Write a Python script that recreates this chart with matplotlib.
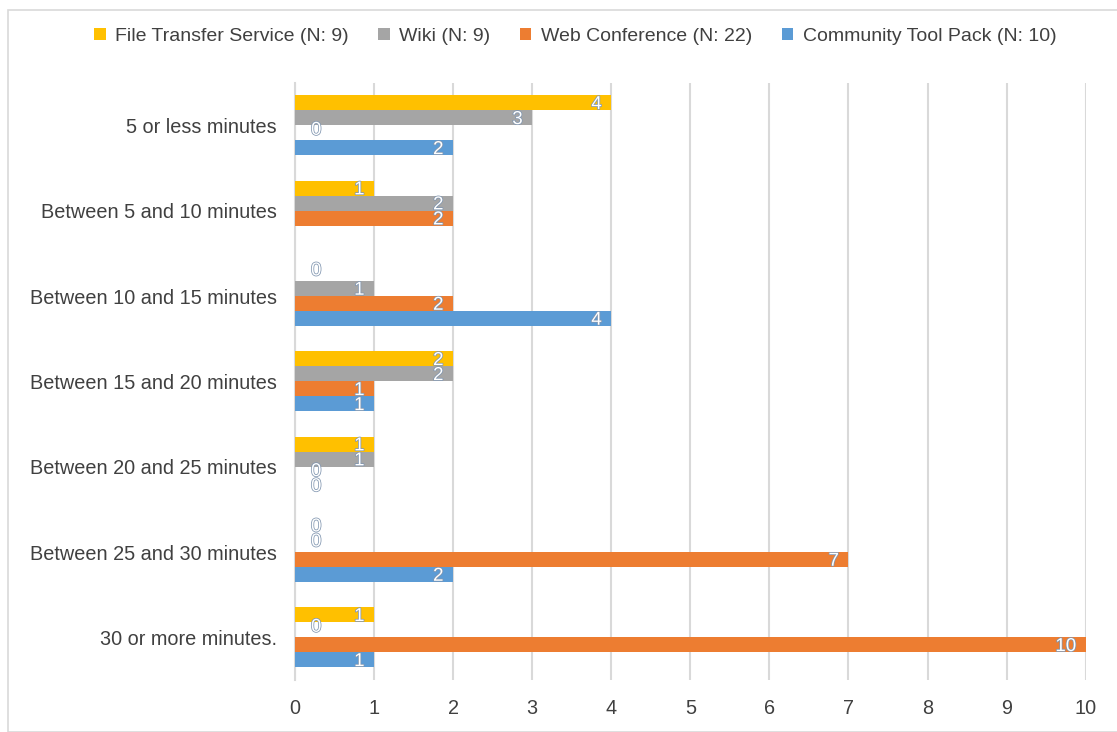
import matplotlib.pyplot as plt
import matplotlib.patheffects as pe
from matplotlib.patches import Rectangle
import numpy as np

plt.rcParams['font.family'] = ['Liberation Sans Narrow', 'Liberation Sans', 'DejaVu Sans']

categories = ['5 or less minutes', 'Between 5 and 10 minutes', 'Between 10 and 15 minutes',
              'Between 15 and 20 minutes', 'Between 20 and 25 minutes',
              'Between 25 and 30 minutes', '30 or more minutes.']
series_names = ['File Transfer Service (N: 9)', 'Wiki (N: 9)',
                'Web Conference (N: 22)', 'Community Tool Pack (N: 10)']
file_transfer = [4, 1, 0, 2, 1, 0, 1]
wiki = [3, 2, 1, 2, 1, 0, 0]
web_conference = [0, 2, 2, 1, 0, 7, 10]
community_tool = [2, 0, 4, 1, 0, 2, 1]
x_ticks = list(range(0, 11))

colors = ['#FFC000', '#A5A5A5', '#ED7D31', '#5B9BD5']
text_color = '#404040'
grid_color = '#D9D9D9'

fig = plt.figure(figsize=(11.17, 7.32), dpi=100)
fig.patches.append(Rectangle((8 / 1117, 0), 1.2, 1 - 10 / 732, transform=fig.transFigure,
                             facecolor='none', edgecolor=grid_color, linewidth=1.2))
ax = fig.add_axes([0.264, 0.071, 0.708, 0.816])

h = 0.176
y = np.arange(len(categories))
all_series = [file_transfer, wiki, web_conference, community_tool]
outline = [pe.withStroke(linewidth=1.1, foreground='#8196B0')]
for k, (vals, name, c) in enumerate(zip(all_series, series_names, colors)):
    pos = y + (k - 1.5) * h
    ax.barh(pos, vals, height=h, color=c, label=name, zorder=3)
    for i, (p, v) in enumerate(zip(pos, vals)):
        if v == 0 and k == 3 and i == 1:
            continue  # label not shown in the original
        if v > 0:
            ax.text(v - 0.12, p + 0.02, str(v), ha='right', va='center', fontsize=13.5,
                    color='white', path_effects=outline, zorder=4)
        else:
            ax.text(0.27, p - 0.03, str(v), ha='center', va='center', fontsize=13.5,
                    color='white', path_effects=outline, zorder=4)

ax.set_xlim(0, 10)
ax.set_ylim(len(categories) - 0.5, -0.5)
ax.set_xticks(x_ticks)
ax.set_yticks(y)
ax.set_yticklabels(categories)
ax.grid(axis='x', color=grid_color, linewidth=1.5, zorder=0)
for s in ['top', 'right', 'bottom']:
    ax.spines[s].set_visible(False)
ax.spines['left'].set_color(grid_color)
ax.spines['left'].set_linewidth(1.5)
ax.tick_params(axis='both', length=0, labelsize=14.3, colors=text_color)
ax.tick_params(axis='x', pad=14)
ax.tick_params(axis='y', pad=13)

fig.legend(loc='center', bbox_to_anchor=(0.515, 0.95), ncol=4, frameon=False,
           fontsize=14, handlelength=0.6, handleheight=0.6, handletextpad=0.5,
           columnspacing=1.5, labelcolor=text_color)

plt.savefig('out.png', dpi=100)
